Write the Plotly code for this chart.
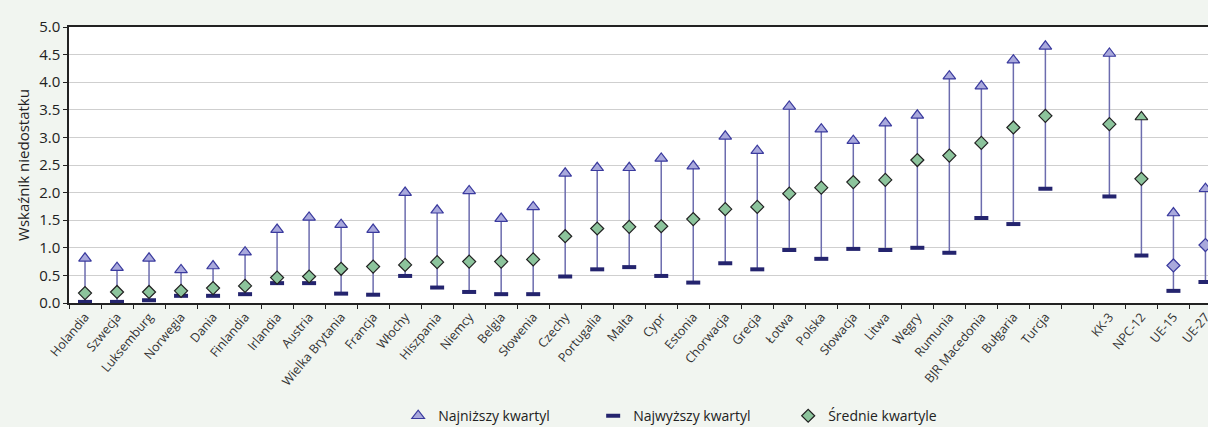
import plotly.graph_objects as go

categories = ["Holandia", "Szwecja", "Luksemburg", "Norwegia", "Dania", "Finlandia",
              "Irlandia", "Austria", "Wielka Brytania", "Francja", "Włochy", "Hiszpania",
              "Niemcy", "Belgia", "Słowenia", "Czechy", "Portugalia", "Malta", "Cypr",
              "Estonia", "Chorwacja", "Grecja", "Łotwa", "Polska", "Słowacja", "Litwa",
              "Węgry", "Rumunia", "BJR Macedonia", "Bułgaria", "Turcja", " ",
              "KK-3", "NPC-12", "UE-15", "UE-27"]

najnizszy = [0.81, 0.64, 0.81, 0.60, 0.67, 0.92, 1.33, 1.55, 1.42, 1.33, 2.00, 1.68,
             2.03, 1.53, 1.74, 2.35, 2.45, 2.45, 2.62, 2.48, 3.02, 2.76, 3.56, 3.15,
             2.94, 3.26, 3.40, 4.11, 3.93, 4.40, 4.65, None, 4.52, 3.37, 1.63, 2.07]

najwyzszy = [0.02, 0.02, 0.05, 0.13, 0.13, 0.16, 0.36, 0.36, 0.17, 0.15, 0.49, 0.28,
             0.20, 0.16, 0.16, 0.48, 0.61, 0.65, 0.49, 0.37, 0.72, 0.61, 0.96, 0.80,
             0.98, 0.96, 1.00, 0.91, 1.54, 1.43, 2.07, None, 1.93, 0.86, 0.22, 0.38]

srednie = [0.18, 0.20, 0.20, 0.22, 0.27, 0.31, 0.46, 0.48, 0.62, 0.66, 0.69, 0.74,
           0.75, 0.75, 0.79, 1.21, 1.35, 1.38, 1.39, 1.52, 1.70, 1.74, 1.98, 2.09,
           2.19, 2.23, 2.59, 2.67, 2.90, 3.18, 3.39, None, 3.24, 2.25, 0.68, 1.05]

y_ticks = [0.0, 0.5, 1.0, 1.5, 2.0, 2.5, 3.0, 3.5, 4.0, 4.5, 5.0]

LAV = "#a9a9dc"
NAVY = "#24246e"
GREEN = "#8cc49c"
LINE = "#6c6cae"
FONT = "Open Sans"

# build connector segments from the data
lx, ly = [], []
for c, lo, hi in zip(categories, najwyzszy, najnizszy):
    if lo is None:
        continue
    lx += [c, c, None]
    ly += [lo, hi, None]

tri_colors = [GREEN if c == "NPC-12" else LAV for c in categories]
tri_line = ["#222222" if c == "NPC-12" else "#3a3a9e" for c in categories]
dia_colors = [LAV if c in ("UE-15", "UE-27") else GREEN for c in categories]
dia_line = ["#3a3a9e" if c in ("UE-15", "UE-27") else "#222222" for c in categories]

fig = go.Figure()
fig.add_trace(go.Scatter(x=lx, y=ly, mode="lines", line=dict(color=LINE, width=1.5),
                         showlegend=False, hoverinfo="skip"))
fig.add_trace(go.Scatter(x=categories, y=najnizszy, mode="markers", name="Najniższy kwartyl",
                         marker=dict(symbol="triangle-up", size=11, color=tri_colors,
                                     line=dict(color=tri_line, width=1.2))))
fig.add_trace(go.Scatter(x=categories, y=najwyzszy, mode="markers", name="Najwyższy kwartyl",
                         marker=dict(symbol="line-ew-open", size=10, color=NAVY,
                                     line=dict(color=NAVY, width=4))))
fig.add_trace(go.Scatter(x=categories, y=srednie, mode="markers", name="Średnie kwartyle",
                         marker=dict(symbol="diamond", size=10, color=dia_colors,
                                     line=dict(color=dia_line, width=1.2))))

fig.update_layout(
    width=1208, height=427,
    margin=dict(l=69, r=0, t=27, b=124, autoexpand=False),
    paper_bgcolor="#f1f5f0", plot_bgcolor="#ffffff",
    font=dict(family=FONT, size=12, color="#222222"),
    legend=dict(orientation="h", x=0.289, xanchor="left", y=-0.352, yanchor="top",
                entrywidth=150, entrywidthmode="pixels",
                font=dict(size=14, color="#222222"), bgcolor="rgba(0,0,0,0)"),
    xaxis=dict(type="category", categoryorder="array", categoryarray=categories,
               range=[-0.5, 35.08], tickangle=-50, tickson="boundaries",
               ticks="outside", ticklen=4, tickcolor="#222222", automargin=False,
               showline=True, linecolor="#222222", linewidth=1.5, mirror=True,
               showgrid=False, tickfont=dict(size=12.5, color="#333333")),
    yaxis=dict(range=[0, 5.0], tickvals=y_ticks, tickformat=".1f",
               ticks="outside", ticklen=4, tickcolor="#222222", automargin=False,
               showline=True, linecolor="#222222", linewidth=1.5,
               gridcolor="#cfcfcf", gridwidth=1, zeroline=False,
               tickfont=dict(size=15, color="#222222"),
               title=dict(text="Wskaźnik niedostatku", font=dict(size=15), standoff=6)),
)

fig.write_html("out.html", config={"displayModeBar": False},
               post_script="document.body.style.margin='0';document.body.style.overflow='hidden';")
